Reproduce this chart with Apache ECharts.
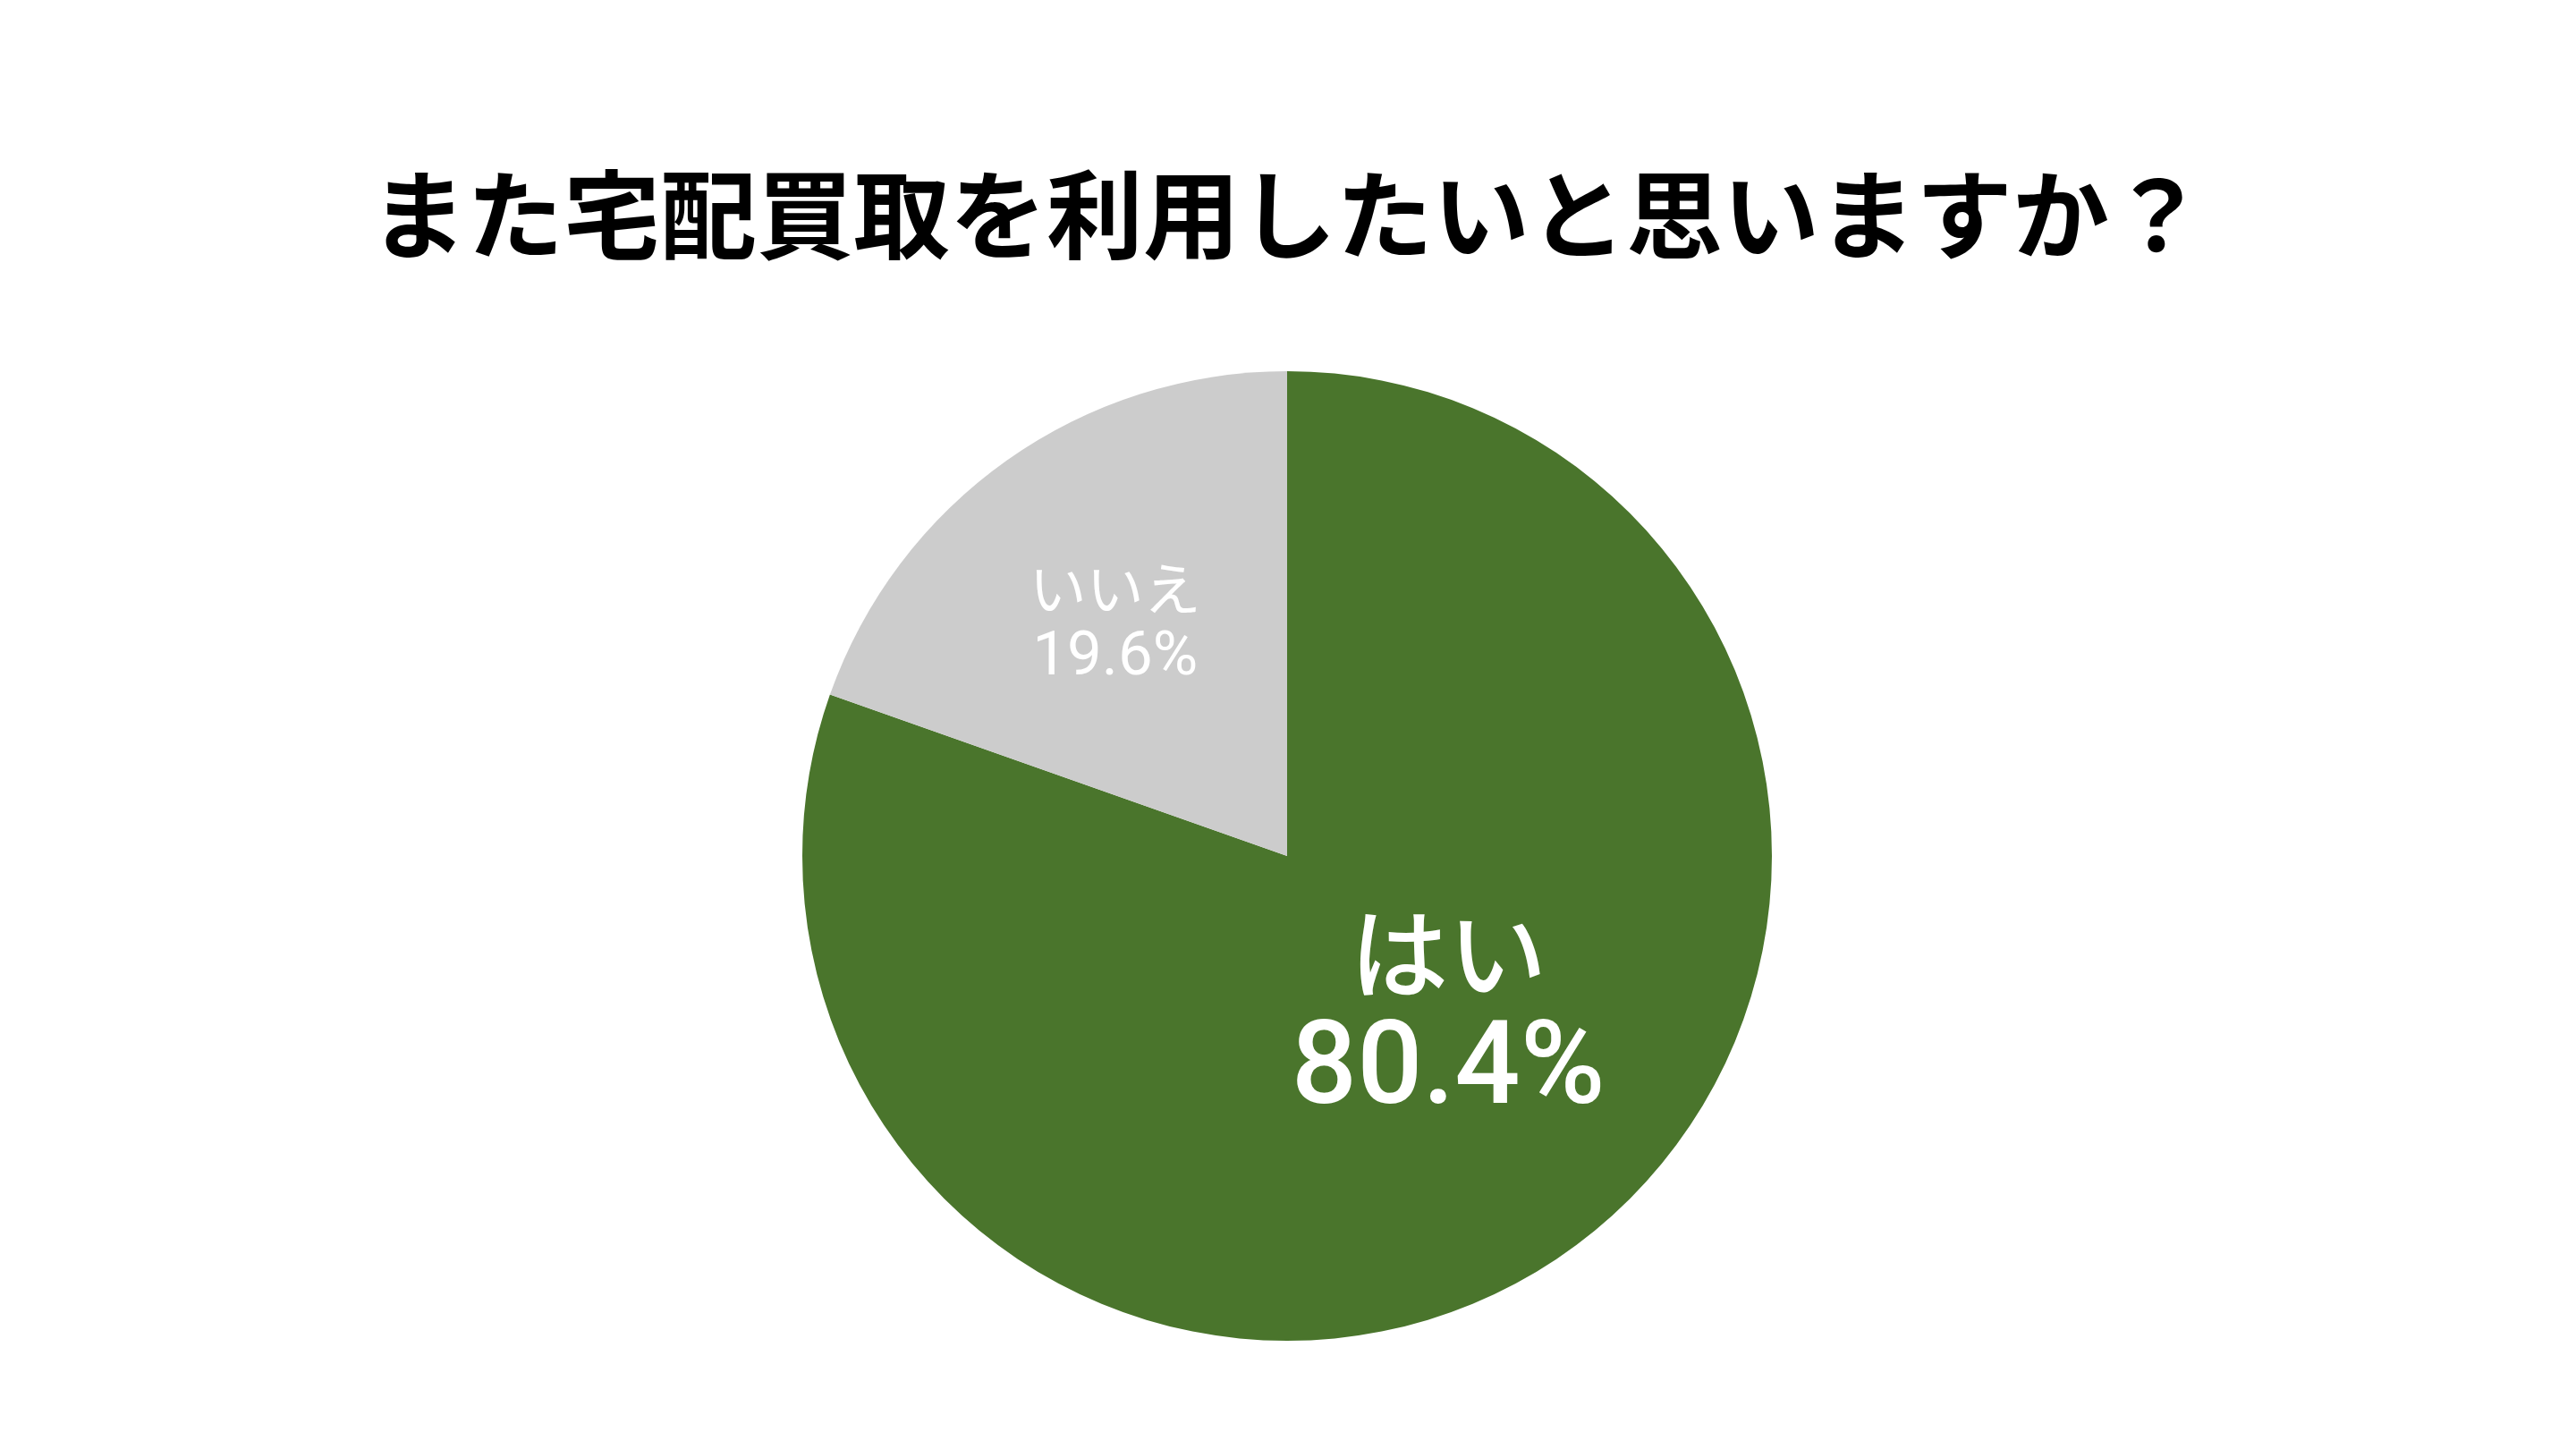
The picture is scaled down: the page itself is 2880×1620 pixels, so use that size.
<!DOCTYPE html>
<html><head><meta charset="utf-8">
<style>html,body{margin:0;padding:0;background:#fff}#c{width:2880px;height:1620px}</style>
<script src="https://cdn.jsdelivr.net/npm/echarts@6/dist/echarts.min.js"></script>
</head><body><div id="c"></div>
<script>
const titleText = 'また宅配買取を利用したいと思いますか？';
const categories = ['はい', 'いいえ'];
const values = [80.4, 19.6];
const colors = ['#4a752c', '#cccccc'];

const labelStyles = [
  {offset: [22, -47], nameSize: 110, valSize: 129, nameLH: 135, valLH: 135, weight: 500},
  {offset: [-34, -36], nameSize: 64, valSize: 69, nameLH: 79, valLH: 79, weight: 'normal'}
];

const data = categories.map((name, i) => ({
  name: name,
  value: values[i],
  itemStyle: {color: colors[i]},
  label: {
    offset: labelStyles[i].offset,
    rich: {
      n: {fontFamily: 'Noto Sans CJK JP', fontWeight: labelStyles[i].weight, fontSize: labelStyles[i].nameSize, lineHeight: labelStyles[i].nameLH, color: '#fff', align: 'center'},
      v: {fontFamily: 'Roboto', fontWeight: labelStyles[i].weight, fontSize: labelStyles[i].valSize, lineHeight: labelStyles[i].valLH, color: '#fff', align: 'center'}
    }
  }
}));

const chart = echarts.init(document.getElementById('c'));
chart.setOption({
  animation: false,
  backgroundColor: '#ffffff',
  title: {
    text: titleText,
    left: 'center',
    top: 181,
    textStyle: {fontFamily: 'Noto Sans CJK JP', fontWeight: 'bold', fontSize: 108, color: '#000'}
  },
  series: [{
    type: 'pie',
    center: [1439, 957],
    radius: [0, 542],
    startAngle: 90,
    clockwise: true,
    itemStyle: {borderWidth: 0},
    label: {
      show: true,
      position: 'inside',
      formatter: p => '{n|' + p.name + '}\n{v|' + p.value + '%}'
    },
    labelLine: {show: false},
    emphasis: {disabled: true},
    data: data
  }]
});
</script></body></html>
